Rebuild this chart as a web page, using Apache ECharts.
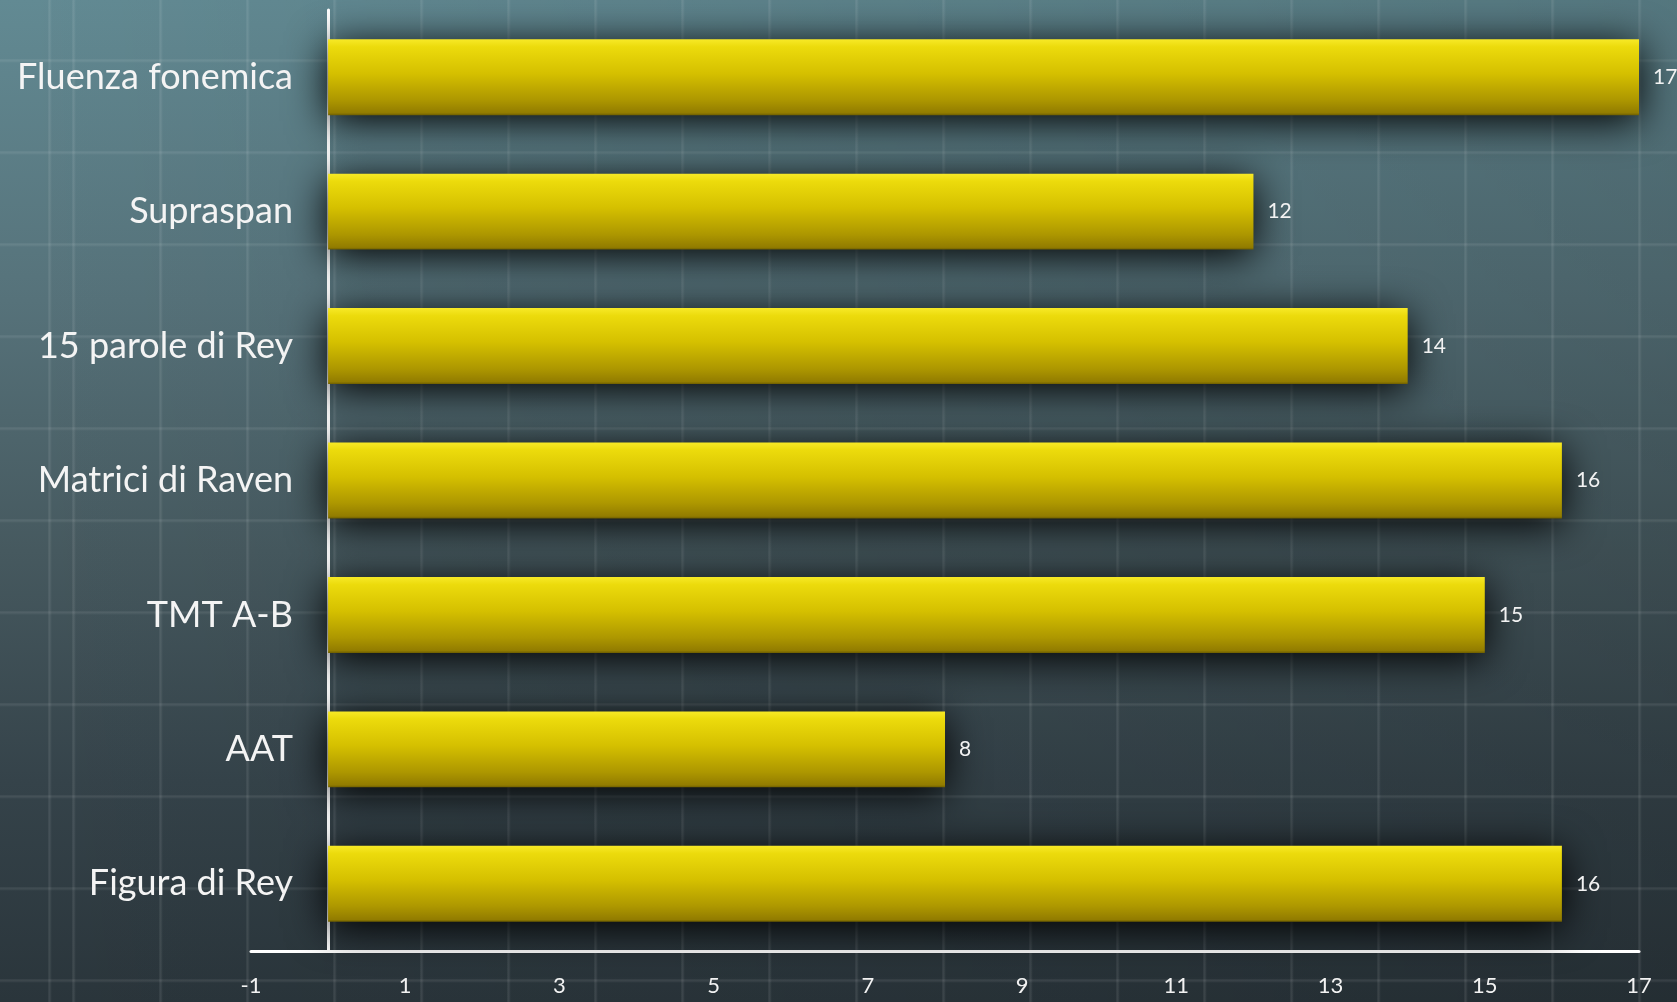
<!DOCTYPE html>
<html>
<head>
<meta charset="utf-8">
<script src="https://cdn.jsdelivr.net/npm/echarts@6/dist/echarts.min.js"></script>
<style>
  html, body { margin: 0; padding: 0; }
  #chart {
    width: 1677px; height: 1002px;
    background-image:
      repeating-linear-gradient(90deg, rgba(255,255,255,0.03) 0px, rgba(255,255,255,0.09) 1px, rgba(255,255,255,0.09) 2px, rgba(255,255,255,0.03) 3px, rgba(255,255,255,0) 4px, rgba(255,255,255,0) 87px),
      repeating-linear-gradient(180deg, rgba(255,255,255,0.03) 0px, rgba(255,255,255,0.08) 1px, rgba(255,255,255,0.08) 2px, rgba(255,255,255,0.03) 3px, rgba(255,255,255,0) 4px, rgba(255,255,255,0) 92px),
      linear-gradient(90deg, rgba(0,0,0,0) 0%, rgba(0,0,0,0.14) 100%),
      linear-gradient(180deg, #628a93 0%, #56727a 30%, #46595f 55%, #35434a 78%, #2a353b 100%);
    background-position: 72px 0, 0 59px, 0 0, 0 0;
  }
</style>
</head>
<body>
<div id="chart"></div>
<script>
const categories = ['Fluenza fonemica', 'Supraspan', '15 parole di Rey', 'Matrici di Raven', 'TMT A-B', 'AAT', 'Figura di Rey'];
const values = [17, 12, 14, 16, 15, 8, 16];
const xTickLabels = [-1, 1, 3, 5, 7, 9, 11, 13, 15, 17];

const chart = echarts.init(document.getElementById('chart'), null, { renderer: 'canvas' });
const labelFont = 'Lato, "Open Sans", "Noto Sans", sans-serif';

chart.setOption({
  backgroundColor: 'transparent',
  animation: false,
  grid: { left: 251, right: 38, top: 10, bottom: 51, containLabel: false, outerBoundsMode: 'none' },
  xAxis: {
    type: 'value',
    min: -1,
    max: 17,
    interval: 1,
    axisLine: { show: true, onZero: false, lineStyle: { color: '#ffffff', width: 3 } },
    axisTick: { show: false },
    splitLine: { show: false },
    axisLabel: {
      color: '#f2f2f2',
      fontFamily: labelFont,
      fontSize: 22,
      margin: 24,
      formatter: function (v) { return xTickLabels.indexOf(v) >= 0 ? String(v) : ''; }
    }
  },
  yAxis: {
    type: 'category',
    data: categories,
    inverse: true,
    axisLine: { show: true, onZero: true, lineStyle: { color: '#ffffff', width: 3 } },
    axisTick: { show: false },
    splitLine: { show: false },
    axisLabel: {
      color: '#f4f4f4',
      fontFamily: labelFont,
      fontSize: 36,
      margin: -42
    }
  },
  series: [{
    type: 'bar',
    data: values,
    barWidth: '56.5%',
    itemStyle: {
      color: new echarts.graphic.LinearGradient(0, 0, 0, 1, [
        { offset: 0, color: '#f7e927' },
        { offset: 0.1, color: '#ecdb0c' },
        { offset: 0.45, color: '#d5c000' },
        { offset: 0.8, color: '#ad9700' },
        { offset: 0.97, color: '#927c00' },
        { offset: 1, color: '#6e5e00' }
      ]),
      shadowColor: 'rgba(0,0,0,1)',
      shadowBlur: 40,
      shadowOffsetX: 0,
      shadowOffsetY: 6
    },
    label: {
      show: true,
      position: 'right',
      distance: 14,
      color: '#f2f2f2',
      fontFamily: labelFont,
      fontSize: 21
    }
  }]
});
</script>
</body>
</html>
